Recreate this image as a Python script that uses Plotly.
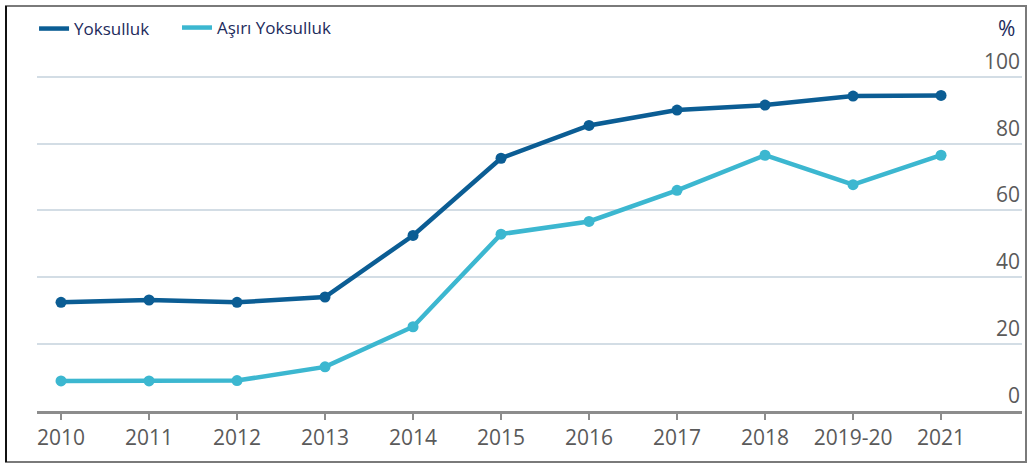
import plotly.graph_objects as go

years = ["2010", "2011", "2012", "2013", "2014", "2015", "2016", "2017", "2018", "2019-20", "2021"]
yoksulluk = [32.5, 33.2, 32.5, 34.1, 52.5, 75.6, 85.4, 90.0, 91.5, 94.2, 94.4]
asiri_yoksulluk = [9.0, 9.0, 9.1, 13.2, 25.2, 52.9, 56.7, 66.0, 76.5, 67.7, 76.5]
y_ticks = [0, 20, 40, 60, 80, 100]

dark = "#0b5d94"
light = "#3cb7d0"
font_num = "Open Sans, sans-serif"
num_color = "#5a5a5a"

fig = go.Figure()
for name, vals, col, lg in [("Yoksulluk", yoksulluk, dark, "legend"),
                            ("Aşırı Yoksulluk", asiri_yoksulluk, light, "legend2")]:
    fig.add_trace(go.Scatter(x=years, y=vals, mode="lines", name=name, legend=lg,
                             line=dict(color=col, width=4.5), hoverinfo="skip"))
    fig.add_trace(go.Scatter(x=years, y=vals, mode="markers", name=name, showlegend=False,
                             marker=dict(color=col, size=11)))

T, B, L, R = 75, 53, 37, 6
H, W = 464, 1028
ph = H - T - B
pw = W - L - R
base = H - B

leg_font = dict(family="Open Sans, sans-serif", size=17, color="#1d2b5c")
fig.update_layout(
    width=W, height=H,
    margin=dict(l=L, r=R, t=T, b=B, autoexpand=False),
    paper_bgcolor="white", plot_bgcolor="white",
    showlegend=True,
    legend=dict(orientation="h", x=-0.003, y=(base - 29) / ph, xanchor="left", yanchor="middle",
                font=leg_font, itemwidth=30, bgcolor="rgba(0,0,0,0)"),
    legend2=dict(orientation="h", x=(177 - L) / pw, y=(base - 28) / ph, xanchor="left", yanchor="middle",
                 font=leg_font, itemwidth=30, bgcolor="rgba(0,0,0,0)"),
    xaxis=dict(type="category", range=[-0.273, 10.92], showgrid=False,
               showline=True, linecolor="#8c8c8c", linewidth=3,
               ticks="outside", ticklen=6, tickwidth=2, tickcolor="#8c8c8c",
               tickfont=dict(family=font_num, size=21, color=num_color)),
    yaxis=dict(range=[0, 100.5], tickvals=y_ticks, showticklabels=False,
               showgrid=True, gridcolor="#d3dde5", gridwidth=2,
               zeroline=False, showline=False),
)

for t in y_ticks:
    fig.add_annotation(text=str(t), xref="paper", yref="y", x=1.0, y=t,
                       xanchor="right", yanchor="bottom", yshift=0, showarrow=False,
                       font=dict(family=font_num, size=21, color=num_color))

fig.add_annotation(text="%", xref="paper", yref="paper", x=0.995, y=(base - 28) / ph,
                   xanchor="right", yanchor="middle", showarrow=False,
                   font=dict(family="Open Sans, sans-serif", size=21, color="#1d2b5c"))

# frame around the image
x0 = (6 - L) / pw
x1 = (1026 - L) / pw
y0 = (base - 462) / ph
y1 = (base - 6) / ph
fig.add_shape(type="rect", xref="paper", yref="paper", x0=x0, x1=x1, y0=y0, y1=y1,
              line=dict(color="#7a7a7a", width=2))
fig.add_shape(type="line", xref="paper", yref="paper", x0=x0, x1=x0, y0=y0, y1=y1,
              line=dict(color="#111111", width=2))

fig.write_html("out.html", config={"displayModeBar": False},
               post_script="document.body.style.margin='0';document.body.style.overflow='hidden';")
